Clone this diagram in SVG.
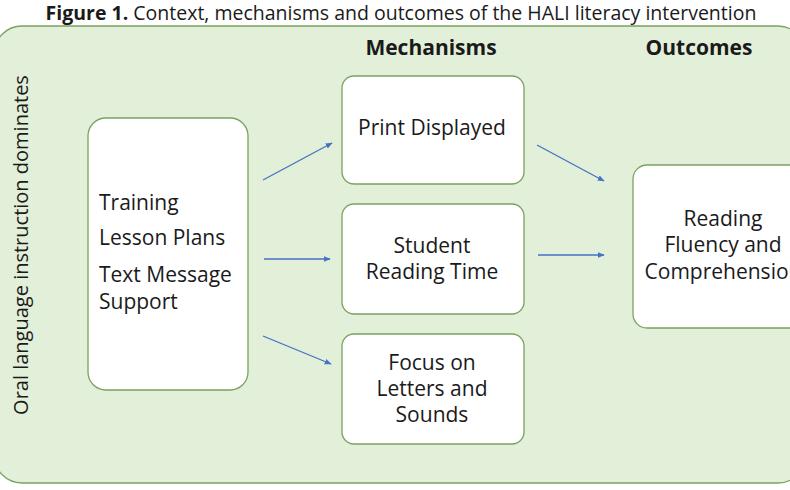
<svg xmlns="http://www.w3.org/2000/svg" width="790" height="490" viewBox="0 0 790 490">
<style>
text{font-family:"Open Sans","Liberation Sans",sans-serif;fill:#1a1a1a}
.box{fill:#ffffff;stroke:#7aa35e;stroke-width:1.3}
.t{font-size:21px}
.c{text-anchor:middle}
.h{font-size:21px;font-weight:bold;text-anchor:middle}
.arr{stroke:#4472c4;stroke-width:1.3;fill:none;marker-end:url(#ah)}
</style>
<defs>
<marker id="ah" viewBox="0 0 10 10" refX="9" refY="5" markerWidth="7" markerHeight="7" orient="auto" markerUnits="userSpaceOnUse">
<path d="M0,1 L10,5 L0,9 z" fill="#4472c4"/>
</marker>
</defs>
<rect width="790" height="490" fill="#ffffff"/>
<rect x="-6" y="26" width="812" height="457" rx="28" fill="#e2efd9" stroke="#7aa35e" stroke-width="1.3"/>
<text x="401" y="20" text-anchor="middle" style="font-size:19.5px"><tspan font-weight="bold">Figure 1.</tspan> Context, mechanisms and outcomes of the HALI literacy intervention</text>
<text x="431" y="55" class="h">Mechanisms</text>
<text x="699" y="55" class="h">Outcomes</text>
<text transform="translate(28,245) rotate(-90)" class="c" style="font-size:20px">Oral language instruction dominates</text>
<g id="inputs">
<rect class="box" x="88" y="118" width="160" height="272" rx="18"/>
<text class="t" x="99" y="210">Training</text>
<text class="t" x="99" y="245">Lesson Plans</text>
<text class="t" x="99" y="282">Text Message</text>
<text class="t" x="99" y="309">Support</text>
</g>
<g id="print">
<rect class="box" x="342" y="76" width="182" height="108" rx="12"/>
<text class="t c" x="432" y="135">Print Displayed</text>
</g>
<g id="reading-time">
<rect class="box" x="342" y="204" width="182" height="110" rx="12"/>
<text class="t c" x="432" y="253">Student</text>
<text class="t c" x="432" y="279">Reading Time</text>
</g>
<g id="letters">
<rect class="box" x="342" y="334" width="182" height="110" rx="12"/>
<text class="t c" x="432" y="370">Focus on</text>
<text class="t c" x="432" y="396">Letters and</text>
<text class="t c" x="432" y="422">Sounds</text>
</g>
<g id="outcome">
<rect class="box" x="633" y="165" width="180" height="163" rx="14"/>
<text class="t c" x="723" y="226">Reading</text>
<text class="t c" x="723" y="252">Fluency and</text>
<text class="t c" x="723" y="279">Comprehension</text>
</g>
<g id="connectors">
<line class="arr" x1="263" y1="180" x2="332" y2="143"/>
<line class="arr" x1="264" y1="259" x2="330" y2="259"/>
<line class="arr" x1="263" y1="336" x2="331" y2="364"/>
<line class="arr" x1="537" y1="145" x2="604" y2="181"/>
<line class="arr" x1="538" y1="255" x2="604" y2="255"/>
</g>
</svg>
